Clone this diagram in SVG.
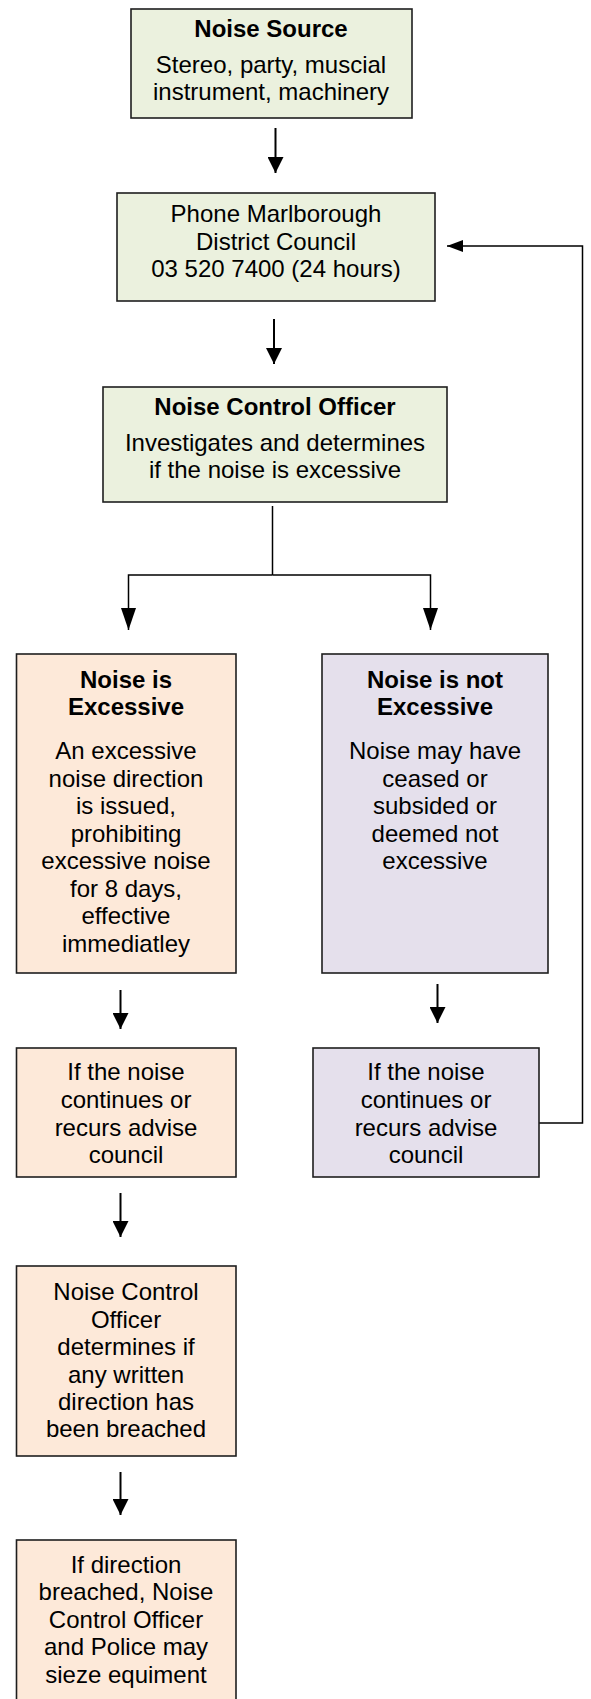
<svg xmlns="http://www.w3.org/2000/svg" width="591" height="1699" viewBox="0 0 591 1699">
<style>
.box{stroke:#1e1e1e;stroke-width:1.6}
.g{fill:#ebf1de}
.o{fill:#fde9d9}
.p{fill:#e5e0ec}
text{font-family:"Liberation Sans",Arial,sans-serif;font-size:24px;fill:#000;text-anchor:middle}
.b{font-weight:bold}
.c{fill:none;stroke:#000}
.s{stroke-width:2}
.t{stroke-width:1.5}
</style>
<defs>
<marker id="ah" viewBox="0 0 16 16" refX="16" refY="8" markerWidth="16" markerHeight="16" orient="auto" markerUnits="userSpaceOnUse"><path d="M0,0 L16,8 L0,16 z" fill="#000"/></marker>
<marker id="ahl" viewBox="0 0 22 15" refX="22" refY="7.5" markerWidth="22" markerHeight="15" orient="auto" markerUnits="userSpaceOnUse"><path d="M0,0 L22,7.5 L0,15 z" fill="#000"/></marker>
<marker id="ahs" viewBox="0 0 16 12" refX="16" refY="6" markerWidth="16" markerHeight="12" orient="auto" markerUnits="userSpaceOnUse"><path d="M0,0 L16,6 L0,12 z" fill="#000"/></marker>
</defs>
<g id="connectors">
<line class="c s" x1="275.5" y1="128" x2="275.5" y2="173" marker-end="url(#ah)"/>
<line class="c s" x1="274" y1="319" x2="274" y2="364" marker-end="url(#ah)"/>
<polyline class="c t" points="272.5,506 272.5,575"/>
<polyline class="c t" points="272.5,575 128.5,575 128.5,630" marker-end="url(#ahl)"/>
<polyline class="c t" points="272.5,575 430.5,575 430.5,630" marker-end="url(#ahl)"/>
<line class="c s" x1="120.5" y1="990" x2="120.5" y2="1029" marker-end="url(#ah)"/>
<line class="c s" x1="437.5" y1="984" x2="437.5" y2="1023" marker-end="url(#ah)"/>
<line class="c s" x1="120.5" y1="1193" x2="120.5" y2="1237" marker-end="url(#ah)"/>
<line class="c s" x1="120.5" y1="1472" x2="120.5" y2="1515" marker-end="url(#ah)"/>
<polyline class="c t" points="539,1123 582.5,1123 582.5,246 447,246" marker-end="url(#ahs)"/>
</g>
<g id="noise-source">
<rect class="box g" x="131" y="9" width="281" height="109"/>
<text class="b" x="271" y="37">Noise Source</text>
<text x="271" y="73">Stereo, party, muscial</text>
<text x="271" y="100">instrument, machinery</text>
</g>
<g id="phone-council">
<rect class="box g" x="117" y="193" width="318" height="108"/>
<text x="276" y="222">Phone Marlborough</text>
<text x="276" y="250">District Council</text>
<text x="276" y="277">03 520 7400 (24 hours)</text>
</g>
<g id="noise-control-officer">
<rect class="box g" x="103" y="387" width="344" height="115"/>
<text class="b" x="275" y="415">Noise Control Officer</text>
<text x="275" y="451">Investigates and determines</text>
<text x="275" y="478">if the noise is excessive</text>
</g>
<g id="noise-excessive">
<rect class="box o" x="16.5" y="654" width="219.5" height="319"/>
<text class="b" x="126" y="688">Noise is</text>
<text class="b" x="126" y="715">Excessive</text>
<text x="126" y="759">An excessive</text>
<text x="126" y="787">noise direction</text>
<text x="126" y="814">is issued,</text>
<text x="126" y="842">prohibiting</text>
<text x="126" y="869">excessive noise</text>
<text x="126" y="897">for 8 days,</text>
<text x="126" y="924">effective</text>
<text x="126" y="952">immediatley</text>
</g>
<g id="noise-not-excessive">
<rect class="box p" x="322" y="654" width="226" height="319"/>
<text class="b" x="435" y="688">Noise is not</text>
<text class="b" x="435" y="715">Excessive</text>
<text x="435" y="759">Noise may have</text>
<text x="435" y="787">ceased or</text>
<text x="435" y="814">subsided or</text>
<text x="435" y="842">deemed not</text>
<text x="435" y="869">excessive</text>
</g>
<g id="continues-left">
<rect class="box o" x="16.5" y="1048" width="219.5" height="129"/>
<text x="126" y="1080">If the noise</text>
<text x="126" y="1108">continues or</text>
<text x="126" y="1136">recurs advise</text>
<text x="126" y="1163">council</text>
</g>
<g id="continues-right">
<rect class="box p" x="313" y="1048" width="226" height="129"/>
<text x="426" y="1080">If the noise</text>
<text x="426" y="1108">continues or</text>
<text x="426" y="1136">recurs advise</text>
<text x="426" y="1163">council</text>
</g>
<g id="determines-breach">
<rect class="box o" x="16.5" y="1266" width="219.5" height="190"/>
<text x="126" y="1300">Noise Control</text>
<text x="126" y="1328">Officer</text>
<text x="126" y="1355">determines if</text>
<text x="126" y="1383">any written</text>
<text x="126" y="1410">direction has</text>
<text x="126" y="1437">been breached</text>
</g>
<g id="seize-equipment">
<rect class="box o" x="16.5" y="1540" width="219.5" height="175"/>
<text x="126" y="1573">If direction</text>
<text x="126" y="1600">breached, Noise</text>
<text x="126" y="1628">Control Officer</text>
<text x="126" y="1655">and Police may</text>
<text x="126" y="1683">sieze equiment</text>
</g>
</svg>
